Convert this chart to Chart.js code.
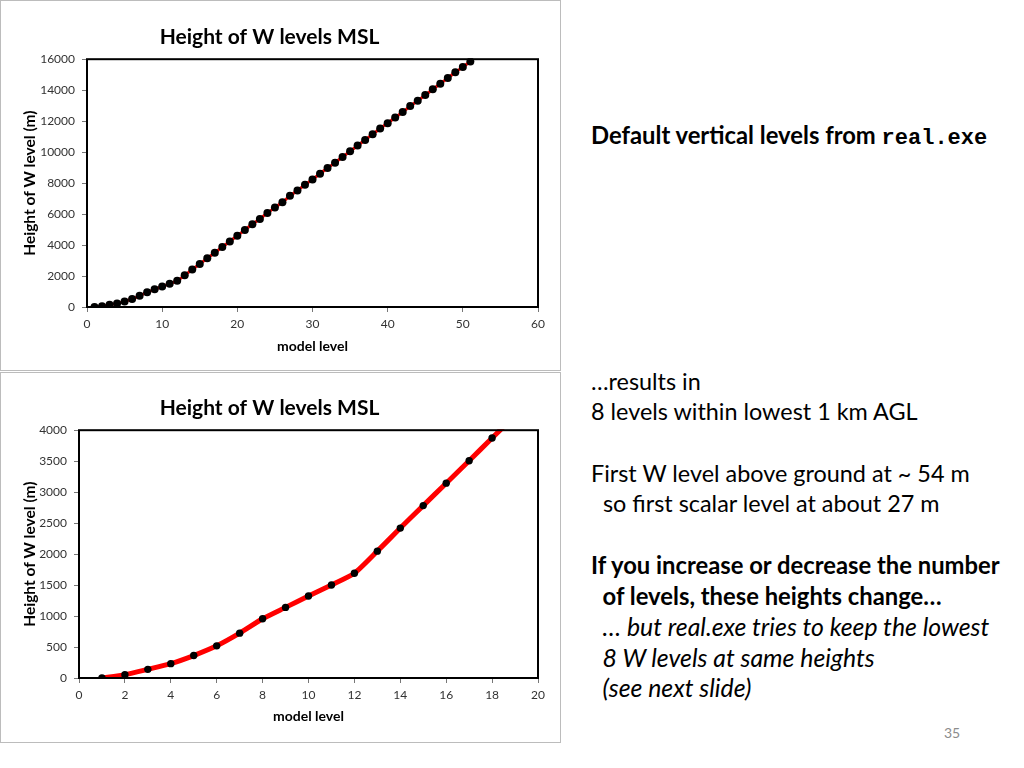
<!DOCTYPE html>
<html>
<head>
<meta charset="utf-8">
<script src="https://cdn.jsdelivr.net/npm/chart.js@4"></script>
<style>
  body { margin: 0; width: 1024px; height: 768px; background: #fff; position: relative; overflow: hidden; font-family: Lato, "Open Sans", sans-serif; }
  .box { position: absolute; left: 0; width: 561px; height: 371px; border: 1px solid #bcbcbc; box-sizing: border-box; background: #fff; }
  .box canvas { position: absolute; left: 0; top: 0; }
  .ln { position: absolute; left: 591px; height: 30px; line-height: 30px; font-size: 23.4px; color: #000; white-space: pre; }
  .b { font-weight: bold; font-size: 23.8px; }
  .i { font-style: italic; font-size: 24.8px; }
  .mono { font-family: "Liberation Mono", "DejaVu Sans Mono", monospace; font-weight: bold; font-size: 22px; }
  .num { position: absolute; left: 944px; top: 724px; font-size: 14px; color: #8c8c8c; }
</style>
</head>
<body>

<div class="box" style="top:0"><canvas id="topChart" width="559" height="369"></canvas></div>
<div class="box" style="top:372px"><canvas id="lowChart" width="559" height="369"></canvas></div>

<div class="ln b" style="top:120px">Default vertical levels from <span class="mono">real.exe</span></div>
<div class="ln" style="top:366px">…results in</div>
<div class="ln" style="top:396px">8 levels within lowest 1 km AGL</div>
<div class="ln" style="top:458px">First W level above ground at ~ 54 m</div>
<div class="ln" style="top:488px">  so first scalar level at about 27 m</div>
<div class="ln b" style="top:550px">If you increase or decrease the number</div>
<div class="ln b" style="top:581px">  of levels, these heights change…</div>
<div class="ln i" style="top:612px">  … but real.exe tries to keep the lowest</div>
<div class="ln i" style="top:643px">  8 W levels at same heights</div>
<div class="ln i" style="top:673px">  (see next slide)</div>
<div class="num">35</div>

<script>
// all 51 W levels (top chart)
const topLevels = [1, 2, 3, 4, 5, 6, 7, 8, 9, 10, 11, 12, 13, 14, 15, 16, 17, 18, 19, 20,
    21, 22, 23, 24, 25, 26, 27, 28, 29, 30, 31, 32, 33, 34, 35, 36, 37, 38, 39, 40,
    41, 42, 43, 44, 45, 46, 47, 48, 49, 50, 51];
const topHeights = [0, 54, 140, 232, 362, 519, 724, 956, 1140, 1324, 1502, 1691, 2048, 2420, 2783, 3145, 3507, 3874, 4237, 4605,
    4973, 5340, 5686, 6075, 6421, 6767, 7178, 7524, 7891, 8237, 8605, 8972, 9318, 9686, 10053, 10421, 10788, 11156, 11524, 11869,
    12237, 12583, 12972, 13318, 13686, 14053, 14420, 14788, 15156, 15501, 15847];

// zoom on the lowest levels (bottom chart)
const lowLevels = [1, 2, 3, 4, 5, 6, 7, 8, 9, 10, 11, 12, 13, 14, 15, 16, 17, 18, 19];
const lowHeights = [0, 54, 140, 232, 362, 519, 724, 956, 1140, 1324, 1502, 1691, 2048, 2420, 2783, 3145, 3507, 3874, 4237];

const topXTicks = [0, 10, 20, 30, 40, 50, 60];
const topYTicks = [0, 2000, 4000, 6000, 8000, 10000, 12000, 14000, 16000];
const lowXTicks = [0, 2, 4, 6, 8, 10, 12, 14, 16, 18, 20];
const lowYTicks = [0, 500, 1000, 1500, 2000, 2500, 3000, 3500, 4000];

const chartTitle = 'Height of W levels MSL';
const xTitle = 'model level';
const yTitle = 'Height of W level (m)';

const framePlugin = {
    id: 'frame',
    afterDatasetsDraw(chart) {
        const a = chart.chartArea;
        const ctx = chart.ctx;
        ctx.save();
        ctx.strokeStyle = '#000';
        ctx.lineWidth = 2;
        ctx.strokeRect(a.left, a.top, a.right - a.left, a.bottom - a.top);
        ctx.restore();
    }
};

function makeChart(id, levels, heights, xTicks, yTicks, opts) {
    const ctx = document.getElementById(id).getContext('2d');
    const points = levels.map((lv, i) => ({ x: lv, y: heights[i] }));

    return new Chart(ctx, {
        type: 'line',
        data: {
            datasets: [{
                data: points,
                borderColor: '#ff0000',
                borderWidth: opts.lineWidth,
                pointBackgroundColor: '#000',
                pointBorderColor: '#000',
                pointRadius: opts.pointRadius,
                pointBorderWidth: 0,
                tension: 0.2,
                clip: 1
            }]
        },
        options: {
            responsive: false,
            animation: false,
            events: [],
            layout: { padding: { left: 0, right: opts.padRight, top: 0, bottom: 0 } },
            plugins: {
                legend: { display: false },
                tooltip: { enabled: false },
                title: {
                    display: true,
                    text: chartTitle,
                    color: '#000',
                    font: { family: 'Lato', size: 21, weight: 'bold', lineHeight: 1.2 },
                    padding: { top: opts.titleTop, bottom: 9 }
                }
            },
            scales: {
                x: {
                    type: 'linear',
                    min: xTicks[0],
                    max: xTicks[xTicks.length - 1],
                    afterBuildTicks: s => { s.ticks = xTicks.map(v => ({ value: v })); },
                    afterFit: s => { s.height = opts.xHeight; },
                    grid: { drawOnChartArea: false, tickLength: 5, color: '#777', lineWidth: 1 },
                    border: { display: false },
                    ticks: { color: '#333', padding: 5, font: { family: 'Lato', size: 12 }, maxRotation: 0,
                             callback: v => String(v) },
                    title: {
                        display: true, text: xTitle, color: '#000',
                        font: { family: 'Lato', size: 14, weight: 'bold' },
                        padding: { top: 0, bottom: opts.xTitleBottom }
                    }
                },
                y: {
                    type: 'linear',
                    min: yTicks[0],
                    max: yTicks[yTicks.length - 1],
                    afterBuildTicks: s => { s.ticks = yTicks.map(v => ({ value: v })); },
                    afterFit: s => { s.width = opts.yWidth; },
                    grid: { drawOnChartArea: false, tickLength: 5, color: '#777', lineWidth: 1 },
                    border: { display: false },
                    ticks: { color: '#333', padding: 7, font: { family: 'Lato', size: 12 },
                             callback: v => String(v) },
                    title: {
                        display: true, text: yTitle, color: '#000',
                        font: { family: 'Lato', size: 15.5, weight: 'bold' },
                        padding: { top: 20, bottom: 0 }
                    }
                }
            }
        },
        plugins: [framePlugin]
    });
}

makeChart('topChart', topLevels, topHeights, topXTicks, topYTicks,
    { lineWidth: 3, pointRadius: 4, padRight: 22, titleTop: 24, xHeight: 63, xTitleBottom: 15, yWidth: 86 });
makeChart('lowChart', lowLevels, lowHeights, lowXTicks, lowYTicks,
    { lineWidth: 5, pointRadius: 3.7, padRight: 22, titleTop: 23, xHeight: 64, xTitleBottom: 17, yWidth: 78 });
</script>
</body>
</html>
